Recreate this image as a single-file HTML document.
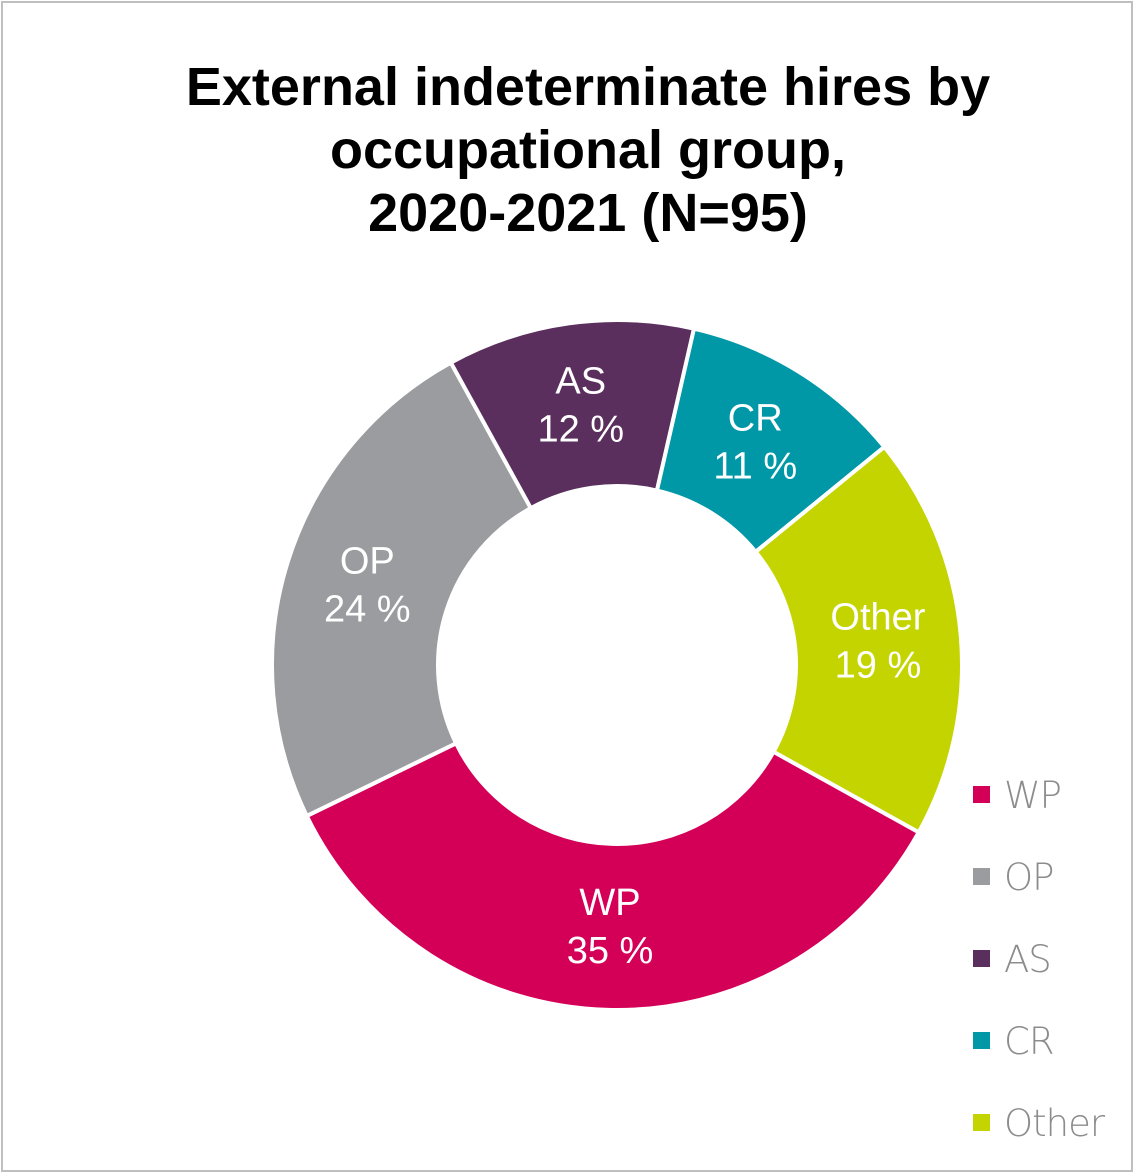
<!DOCTYPE html>
<html><head><meta charset="utf-8">
<style>
html,body{margin:0;padding:0;background:#fff;}
body{width:1133px;height:1172px;overflow:hidden;position:relative;font-family:"Liberation Sans",sans-serif;}
#frame{position:absolute;left:1px;top:1px;width:1128px;height:1167px;border:2px solid #bfbfbf;box-sizing:content-box;}
#title{position:absolute;left:0;width:1176px;top:56px;text-align:center;font-weight:bold;font-size:54px;line-height:63px;color:#000;}
</style></head><body>
<div id="frame"></div>
<div id="title">External indeterminate hires by<br>occupational group,<br>2020-2021 (N=95)</div>
<svg id="chart" width="1133" height="1172" style="position:absolute;left:0;top:0"></svg>
<script>
const categories = ["WP","OP","AS","CR","Other"];
const values = [33,23,11,10,18];
const labels = ["35 %","24 %","12 %","11 %","19 %"];
const colors = ["#d40058","#9b9c9f","#5b2f5d","#0097a7","#c3d400"];
const svg = document.getElementById('chart');
const NS = "http://www.w3.org/2000/svg";
const cx=617, cy=665, R=345, r=179, startDeg=119;
const total = values.reduce((a,b)=>a+b,0);
function pt(deg, rad){const a=deg*Math.PI/180;return [cx+rad*Math.sin(a), cy-rad*Math.cos(a)];}
let acc=startDeg;
values.forEach((v,i)=>{
  const a0=acc, a1=acc+v/total*360; acc=a1;
  const large=(a1-a0)>180?1:0;
  const p0=pt(a0,R),p1=pt(a1,R),q1=pt(a1,r),q0=pt(a0,r);
  const d=`M${p0[0]},${p0[1]} A${R},${R} 0 ${large} 1 ${p1[0]},${p1[1]} L${q1[0]},${q1[1]} A${r},${r} 0 ${large} 0 ${q0[0]},${q0[1]} Z`;
  const path=document.createElementNS(NS,'path');
  path.setAttribute('d',d);path.setAttribute('fill',colors[i]);
  path.setAttribute('stroke','#fff');path.setAttribute('stroke-width','4');
  
  
  svg.appendChild(path);
  const m=pt((a0+a1)/2,(R+r)/2);
  const t=document.createElementNS(NS,'text');
  t.setAttribute('x',m[0]);t.setAttribute('y',m[1]-12);
  t.setAttribute('text-anchor','middle');t.setAttribute('fill','#fff');
  t.setAttribute('font-size','38');t.setAttribute('font-family','Liberation Sans, sans-serif');
  
  
  const s1=document.createElementNS(NS,'tspan');s1.setAttribute('x',m[0]);s1.textContent=categories[i];
  const s2=document.createElementNS(NS,'tspan');s2.setAttribute('x',m[0]);s2.setAttribute('dy','48');s2.textContent=labels[i];
  t.appendChild(s1);t.appendChild(s2);svg.appendChild(t);
});
categories.forEach((c,i)=>{
  const y=795+i*82;
  const g=document.createElementNS(NS,'g');
  
  
  const rect=document.createElementNS(NS,'rect');
  rect.setAttribute('x',973);rect.setAttribute('y',y-9);rect.setAttribute('width',17);rect.setAttribute('height',17);
  rect.setAttribute('fill',colors[i]);
  const t=document.createElementNS(NS,'text');
  t.setAttribute('x',1004);t.setAttribute('y',y+13);t.setAttribute('font-size','37');
  t.setAttribute('fill','#8c8c8c');t.setAttribute('font-family','DejaVu Sans, sans-serif');
  t.setAttribute('font-weight','200');
  t.setAttribute('letter-spacing','-1');
  t.textContent=c;
  g.appendChild(rect);g.appendChild(t);svg.appendChild(g);
});
</script>
</body></html>
